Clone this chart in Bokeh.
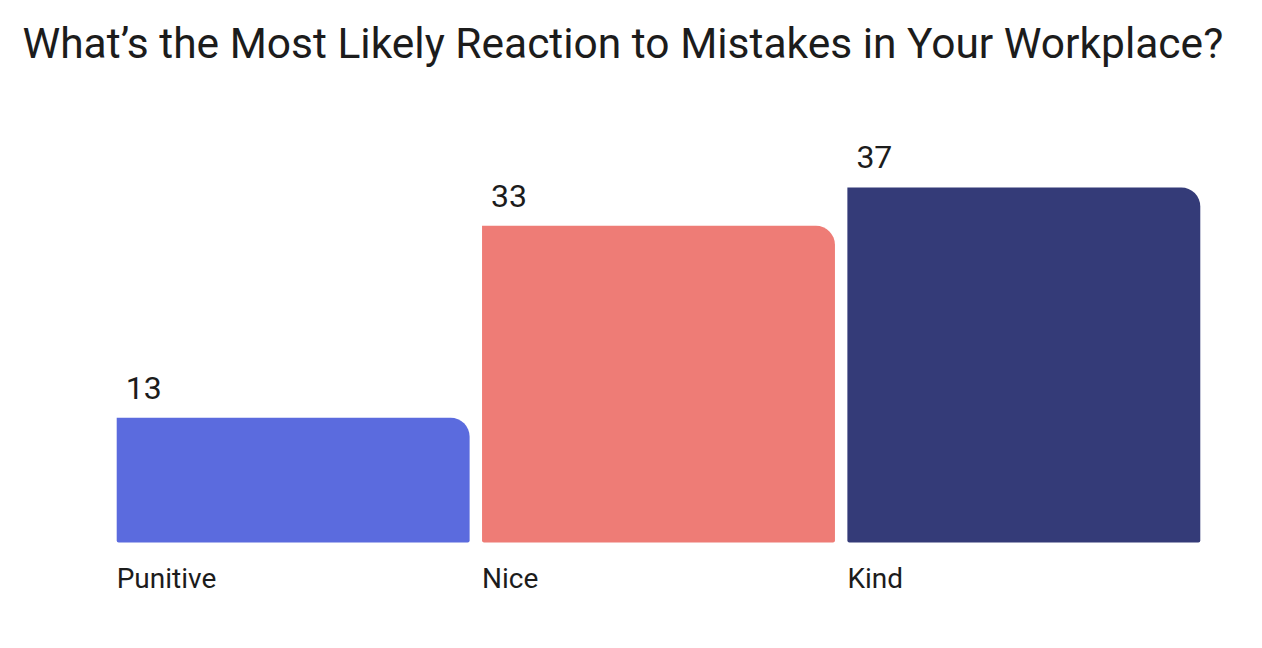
from bokeh.plotting import figure
from bokeh.models import ColumnDataSource, FactorRange, Range1d, Title
from bokeh.core.properties import value
from bokeh.embed import file_html
from bokeh.resources import INLINE

categories = ["Punitive", "Nice", "Kind"]
values = [13, 33, 37]
colors = ["#5B6BDE", "#EE7C76", "#343B78"]
title_text = "What\u2019s the Most Likely Reaction to Mistakes in Your Workplace?"

FONT = "Roboto"
TEXT_COLOR = "#1c1c1c"

W, H = 1246, 632
B_LEFT, B_RIGHT, B_TOP, B_BOTTOM = 110, 40, 72, 20
frame_h = H - B_TOP - B_BOTTOM
ppu = 9.595
base_px = 542 - B_TOP
y_end = base_px / ppu
y_start = -(frame_h - base_px) / ppu

bar_w = 0.966
frame_w = W - B_LEFT - B_RIGHT
unit_px = frame_w / len(categories)
half_bar_px = bar_w * unit_px / 2

source = ColumnDataSource(dict(
    cat=categories,
    val=values,
    color=colors,
    label=[str(v) for v in values],
    zero=[0] * len(categories),
))

p = figure(width=W, height=H,
           x_range=FactorRange(*categories),
           y_range=Range1d(y_start, y_end),
           output_backend="svg", toolbar_location=None,
           x_axis_location=None, y_axis_location=None,
           min_border_left=B_LEFT, min_border_right=B_RIGHT,
           min_border_top=B_TOP, min_border_bottom=B_BOTTOM)
p.grid.visible = False
p.outline_line_color = None
p.background_fill_color = "white"
p.border_fill_color = "white"

p.title = Title(text=title_text, align="left", offset=-88,
                text_font=FONT, text_font_size="42.5px",
                text_font_style="normal", text_color=TEXT_COLOR)

p.vbar(x="cat", top="val", bottom=0, width=bar_w, source=source,
       fill_color="color", line_color=None, border_radius=(0, 19, 2, 2))

p.text(x="cat", y="val", text="label", source=source,
       x_offset=-half_bar_px + 9, y_offset=-30,
       text_align="left", text_baseline="middle",
       text_font=value(FONT), text_font_size="32px", text_color=TEXT_COLOR)

p.text(x="cat", y="zero", text="cat", source=source,
       x_offset=-half_bar_px, y_offset=36,
       text_align="left", text_baseline="middle",
       text_font=value(FONT), text_font_size="28px", text_color=TEXT_COLOR)

open("out.html", "w").write(file_html(p, INLINE))
